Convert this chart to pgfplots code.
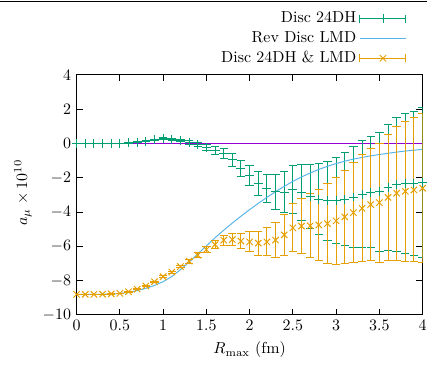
\documentclass[border=0pt]{standalone}
\usepackage{pgfplots}
\pgfplotsset{compat=1.18}
\usepackage{pgfplotstable}
\definecolor{gpgreen}{HTML}{009E73}
\definecolor{gpblue}{HTML}{56B4E9}
\definecolor{gporange}{HTML}{E69F00}
\definecolor{gppurple}{HTML}{9400D3}

\pgfplotsset{
  errlegend/.style={legend image code/.code={
    \draw[##1, mark=none] (0bp,0bp) -- (28.75bp,0bp);
    \draw[##1, mark=none] (0bp,-2.5bp) -- (0bp,2.5bp);
    \draw[##1, mark=none] (28.75bp,-2.5bp) -- (28.75bp,2.5bp);
    \draw[##1] plot coordinates {(14.4bp,0bp)};
  }},
  linelegend/.style={legend image code/.code={\draw[##1] (0bp,0bp) -- (28.75bp,0bp);}},
}

\pgfplotstableread{
x G eG L C
0.0 0.00 0.01 -8.80 -8.80
0.1 0.00 0.01 -8.80 -8.80
0.2 0.00 0.01 -8.80 -8.80
0.3 0.00 0.01 -8.79 -8.79
0.4 0.01 0.01 -8.78 -8.77
0.5 0.01 0.02 -8.75 -8.74
0.6 0.04 0.02 -8.69 -8.65
0.7 0.08 0.03 -8.58 -8.50
0.8 0.14 0.03 -8.45 -8.31
0.9 0.22 0.04 -8.28 -8.06
1.0 0.29 0.05 -8.06 -7.77
1.1 0.26 0.06 -7.76 -7.50
1.2 0.18 0.08 -7.36 -7.18
1.3 0.06 0.11 -6.92 -6.86
1.4 -0.06 0.14 -6.45 -6.51
1.5 -0.22 0.18 -5.97 -6.19
1.6 -0.40 0.22 -5.50 -5.90
1.7 -0.58 0.28 -5.06 -5.64
1.8 -0.96 0.36 -4.64 -5.60
1.9 -1.45 0.46 -4.24 -5.69
2.0 -1.88 0.58 -3.86 -5.74
2.1 -2.32 0.70 -3.49 -5.81
2.2 -2.60 0.82 -3.14 -5.74
2.3 -2.82 1.00 -2.81 -5.63
2.4 -2.83 1.18 -2.50 -5.33
2.5 -2.71 1.40 -2.21 -4.92
2.6 -2.87 1.62 -1.95 -4.82
2.7 -3.08 1.87 -1.72 -4.80
2.8 -3.24 2.09 -1.51 -4.75
2.9 -3.34 2.32 -1.33 -4.67
3.0 -3.34 2.52 -1.17 -4.51
3.1 -3.25 2.72 -1.03 -4.28
3.2 -3.12 2.92 -0.91 -4.03
3.3 -2.97 3.12 -0.81 -3.78
3.4 -2.84 3.25 -0.72 -3.56
3.5 -2.81 3.48 -0.64 -3.45
3.6 -2.57 3.68 -0.57 -3.14
3.7 -2.40 3.90 -0.50 -2.90
3.8 -2.35 4.08 -0.44 -2.79
3.9 -2.32 4.20 -0.39 -2.71
4.0 -2.27 4.35 -0.34 -2.61
}\data

\begin{document}
\begin{tikzpicture}
\begin{axis}[
  at={(47.9bp,36.9bp)}, anchor=south west,
  scale only axis, width=216.25bp, height=150bp,
  xmin=0, xmax=4, ymin=-10, ymax=4,
  xtick={0,0.5,1,1.5,2,2.5,3,3.5,4},
  ytick={-10,-8,-6,-4,-2,0,2,4},
  major tick length=4bp,
  axis line style={line width=0.6bp},
  every tick/.style={black, line width=0.6bp},
  xlabel={$R_{\mathrm{max}}$ (fm)},
  ylabel={$a_\mu\times 10^{10}$},
  ylabel style={at={(axis description cs:-0.155,0.51)}, anchor=center},
  legend plot pos=right,
  legend cell align=right,
  legend style={draw=none, fill=none, at={(rel axis cs:0.968,1.29)}, anchor=north east, row sep=0bp},
]
\addplot[draw=gppurple, line width=1.1bp, no marks, forget plot] coordinates {(0,0) (4,0)};

\addplot[gpgreen, only marks, mark=+, mark size=2.8bp, line width=0.6bp, errlegend,
  error bars/.cd, y dir=both, y explicit,
  error bar style={line width=0.6bp, gpgreen},
  error mark options={rotate=90, mark size=2.6bp, gpgreen, line width=0.6bp}]
  table[x=x, y=G, y error=eG] {\data};
\addlegendentry{Disc 24DH}

\addplot[gpblue, line width=0.6bp, no marks, linelegend]
  table[x=x, y=L] {\data};
\addlegendentry{Rev Disc LMD}

\addplot[gporange, only marks, mark=x, mark size=2.8bp, line width=0.6bp, errlegend,
  error bars/.cd, y dir=both, y explicit,
  error bar style={line width=0.6bp, gporange},
  error mark options={rotate=90, mark size=2.6bp, gporange, line width=0.6bp}]
  table[x=x, y=C, y error=eG] {\data};
\addlegendentry{Disc 24DH \& LMD}
\end{axis}
\draw[line width=0.6bp] (0bp,232.8bp) -- (266.9bp,232.8bp);
\pgfresetboundingbox
\path[use as bounding box] (0bp,0bp) rectangle (266.9bp,233.75bp);
\end{tikzpicture}
\end{document}
